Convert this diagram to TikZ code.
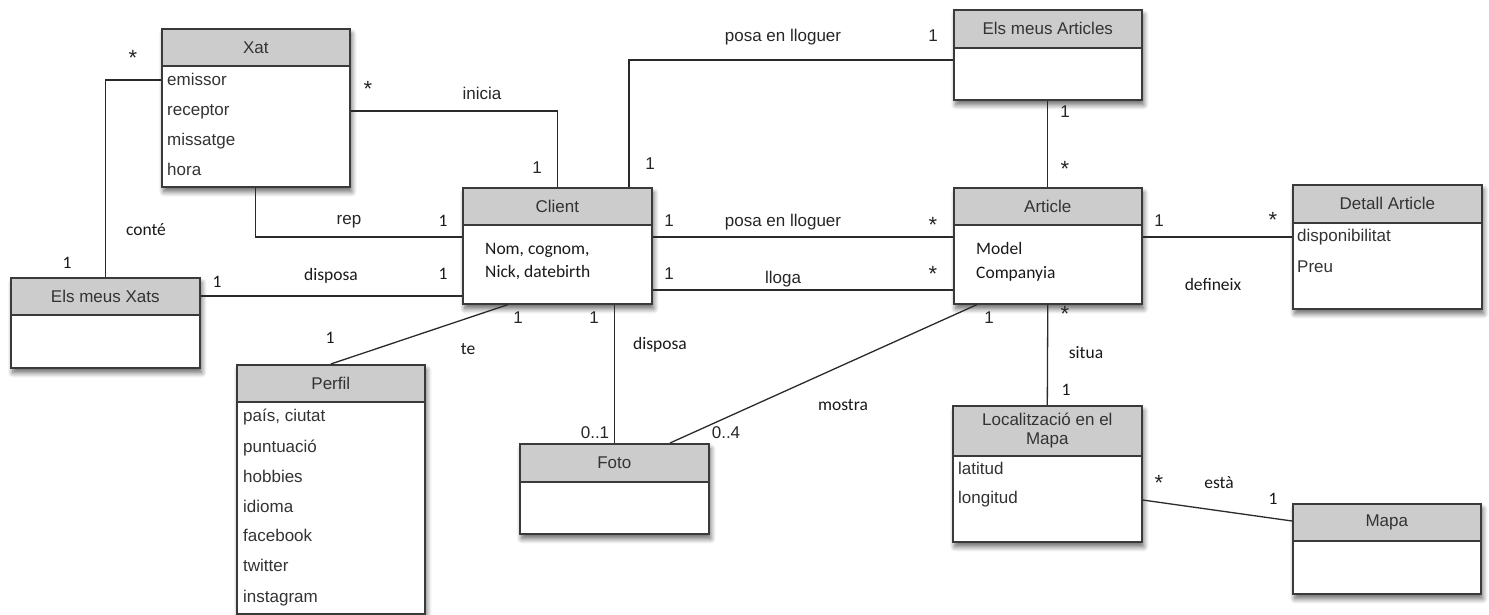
\documentclass[tikz,border=0pt]{standalone}
\usepackage{fontspec}
\setmainfont{Liberation Sans}
\newfontfamily\labfont{Carlito}
\usetikzlibrary{shadows.blur}

\definecolor{boxline}{HTML}{3A3A3A}
\definecolor{headfill}{HTML}{CCCCCC}
\definecolor{boxtext}{HTML}{333333}
\definecolor{linkline}{HTML}{2A2A2A}

\newcommand\arialtxt{\fontsize{17}{19}\selectfont}
\newcommand\caltxt{\labfont\fontsize{17.5}{20}\selectfont}
\newcommand\asttxt{\fontsize{22}{22}\selectfont}

\tikzset{
  boxbody/.style={draw=boxline, line width=1.6pt, fill=white, inner sep=0pt,
    blur shadow={shadow xshift=2pt, shadow yshift=-5pt,
      shadow blur radius=5pt, shadow blur steps=8, shadow opacity=60}},
  boxhead/.style={draw=boxline, line width=1.6pt, fill=headfill, inner sep=0pt,
    text=boxtext, font=\arialtxt, align=center},
  attr/.style={inner sep=0pt, anchor=mid west, text=boxtext, font=\arialtxt},
  cnote/.style={inner sep=0pt, text=black!90, font=\caltxt},
  anote/.style={inner sep=0pt, text=black!85, font=\arialtxt},
  many/.style={inner sep=0pt, text=black!85, font=\asttxt},
  link/.style={draw=linkline, line width=1.3pt},
}

% class box: name, left, top, width, header height, total height, title
\newcommand\classbox[7]{%
  \node[boxbody, minimum width=#4pt, minimum height=#6pt, anchor=north west] (#1) at (#2,#3) {};
  \node[boxhead, minimum width=#4pt, minimum height=#5pt, anchor=north west] (#1-h) at (#2,#3) {#7};
}

\begin{document}
\begin{tikzpicture}[x=1pt, y=-1pt]
\useasboundingbox (0,0) rectangle (1489,615);

% ---------- classes ----------
\classbox{xat}{161}{28}{188}{37}{158}{Xat}
\classbox{xats}{10}{277}{189}{37}{90}{Els meus Xats}
\classbox{client}{462}{187}{189}{37}{116}{Client}
\classbox{perfil}{236}{364}{188}{37}{249}{Perfil}
\classbox{foto}{519}{443}{189}{38}{90}{Foto}
\classbox{arts}{953}{9}{188}{38}{90}{Els meus Articles}
\classbox{article}{953}{187}{188}{37}{116}{Article}
\classbox{detall}{1292}{184}{189}{38}{124}{Detall Article}
\classbox{loc}{952}{405}{189}{50}{136}{Localització en el\\Mapa}
\classbox{mapa}{1292}{503}{188}{37}{90}{Mapa}

% ---------- attributes ----------
\node[attr] (xat-a1) at (167,83) {emissor};
\node[attr] (xat-a2) at (167,113) {receptor};
\node[attr] (xat-a3) at (167,143) {missatge};
\node[attr] (xat-a4) at (167,173) {hora};

\node[attr, font=\caltxt, text=black!90] (client-a1) at (485,252) {Nom, cognom,};
\node[attr, font=\caltxt, text=black!90] (client-a2) at (485,275) {Nick, datebirth};

\node[attr] (perfil-a1) at (243,419) {país, ciutat};
\node[attr] (perfil-a2) at (243,450) {puntuació};
\node[attr] (perfil-a3) at (243,480) {hobbies};
\node[attr] (perfil-a4) at (243,510) {idioma};
\node[attr] (perfil-a5) at (243,539) {facebook};
\node[attr] (perfil-a6) at (243,569) {twitter};
\node[attr] (perfil-a7) at (243,600) {instagram};

\node[attr, font=\caltxt, text=black!90] (article-a1) at (976,252) {Model};
\node[attr, font=\caltxt, text=black!90] (article-a2) at (976,276) {Companyia};

\node[attr] (detall-a1) at (1297,239) {disponibilitat};
\node[attr] (detall-a2) at (1297,270) {Preu};

\node[attr] (loc-a1) at (958,472) {latitud};
\node[attr] (loc-a2) at (958,501) {longitud};

% ---------- associations ----------
\draw[link] (xat.west |- 0,80) -| (xats.north);
\draw[link] (xat.east |- 0,111) -| (client.north);
\draw[link] (xat.south) |- (client.west |- 0,237);
\draw[link] (xats.east |- 0,296) -- (client.west |- 0,296);
\draw[link] (client.south -| 508,0) -- (perfil.north);
\draw[link] (foto.north) -- (foto.north |- client.south);
\draw[link] (client.north -| 629,0) |- (arts.west |- 0,60);
\draw[link] (client.east |- 0,237) -- (article.west |- 0,237);
\draw[link] (client.east |- 0,290) -- (article.west |- 0,290);
\draw[link] (arts.south) -- (article.north);
\draw[link] (article.east |- 0,237) -- (detall.west |- 0,237);
\draw[link] (article.south -| 977,0) -- (foto.north -| 670,0);
\draw[link] (article.south) -- (loc.north);
\draw[link] (loc.east |- 0,500) -- (mapa.west |- 0,521);

% ---------- association names ----------
\node[cnote] (l-conte) at (146,230) {conté};
\node[anote] (l-inicia) at (482,93) {inicia};
\node[anote] (l-rep) at (349,222) {rep};
\node[cnote] (l-disposa1) at (331,276) {disposa};
\node[cnote] (l-te) at (468,349) {te};
\node[cnote] (l-disposa2) at (660,345) {disposa};
\node[anote] (l-posa1) at (783,37) {posa en lloguer};
\node[anote] (l-posa2) at (783,222) {posa en lloguer};
\node[anote] (l-lloga) at (783,279) {lloga};
\node[cnote] (l-mostra) at (843,405) {mostra};
\node[cnote] (l-situa) at (1086,353) {situa};
\node[cnote] (l-defineix) at (1213,284) {defineix};
\node[cnote] (l-esta) at (1219,483) {està};

% ---------- multiplicities ----------
\node[many] (m1) at (133,58) {*};
\node[cnote] (m2) at (67,263) {1};
\node[many] (m3) at (368,89) {*};
\node[anote] (m4) at (537,168) {1};
\node[cnote] (m5) at (443,221) {1};
\node[cnote] (m6) at (217,282) {1};
\node[cnote] (m7) at (443,274) {1};
\node[cnote] (m8) at (330,338) {1};
\node[anote] (m9) at (518,318) {1};
\node[anote] (m10) at (594,318) {1};
\node[anote] (m11) at (595,433) {0..1};
\node[anote] (m12) at (726,433) {0..4};
\node[anote] (m13) at (650,164) {1};
\node[anote] (m14) at (933,36) {1};
\node[anote] (m15) at (669,221) {1};
\node[many] (m16) at (933,225) {*};
\node[anote] (m17) at (669,274) {1};
\node[many] (m18) at (933,274) {*};
\node[anote] (m19) at (1065,112) {1};
\node[many] (m20) at (1065,169) {*};
\node[anote] (m21) at (1159,221) {1};
\node[many] (m22) at (1273,220) {*};
\node[anote] (m23) at (989,318) {1};
\node[many] (m24) at (1065,314) {*};
\node[cnote] (m25) at (1066,390) {1};
\node[many] (m26) at (1159,483) {*};
\node[cnote] (m27) at (1273,499) {1};
\end{tikzpicture}
\end{document}
